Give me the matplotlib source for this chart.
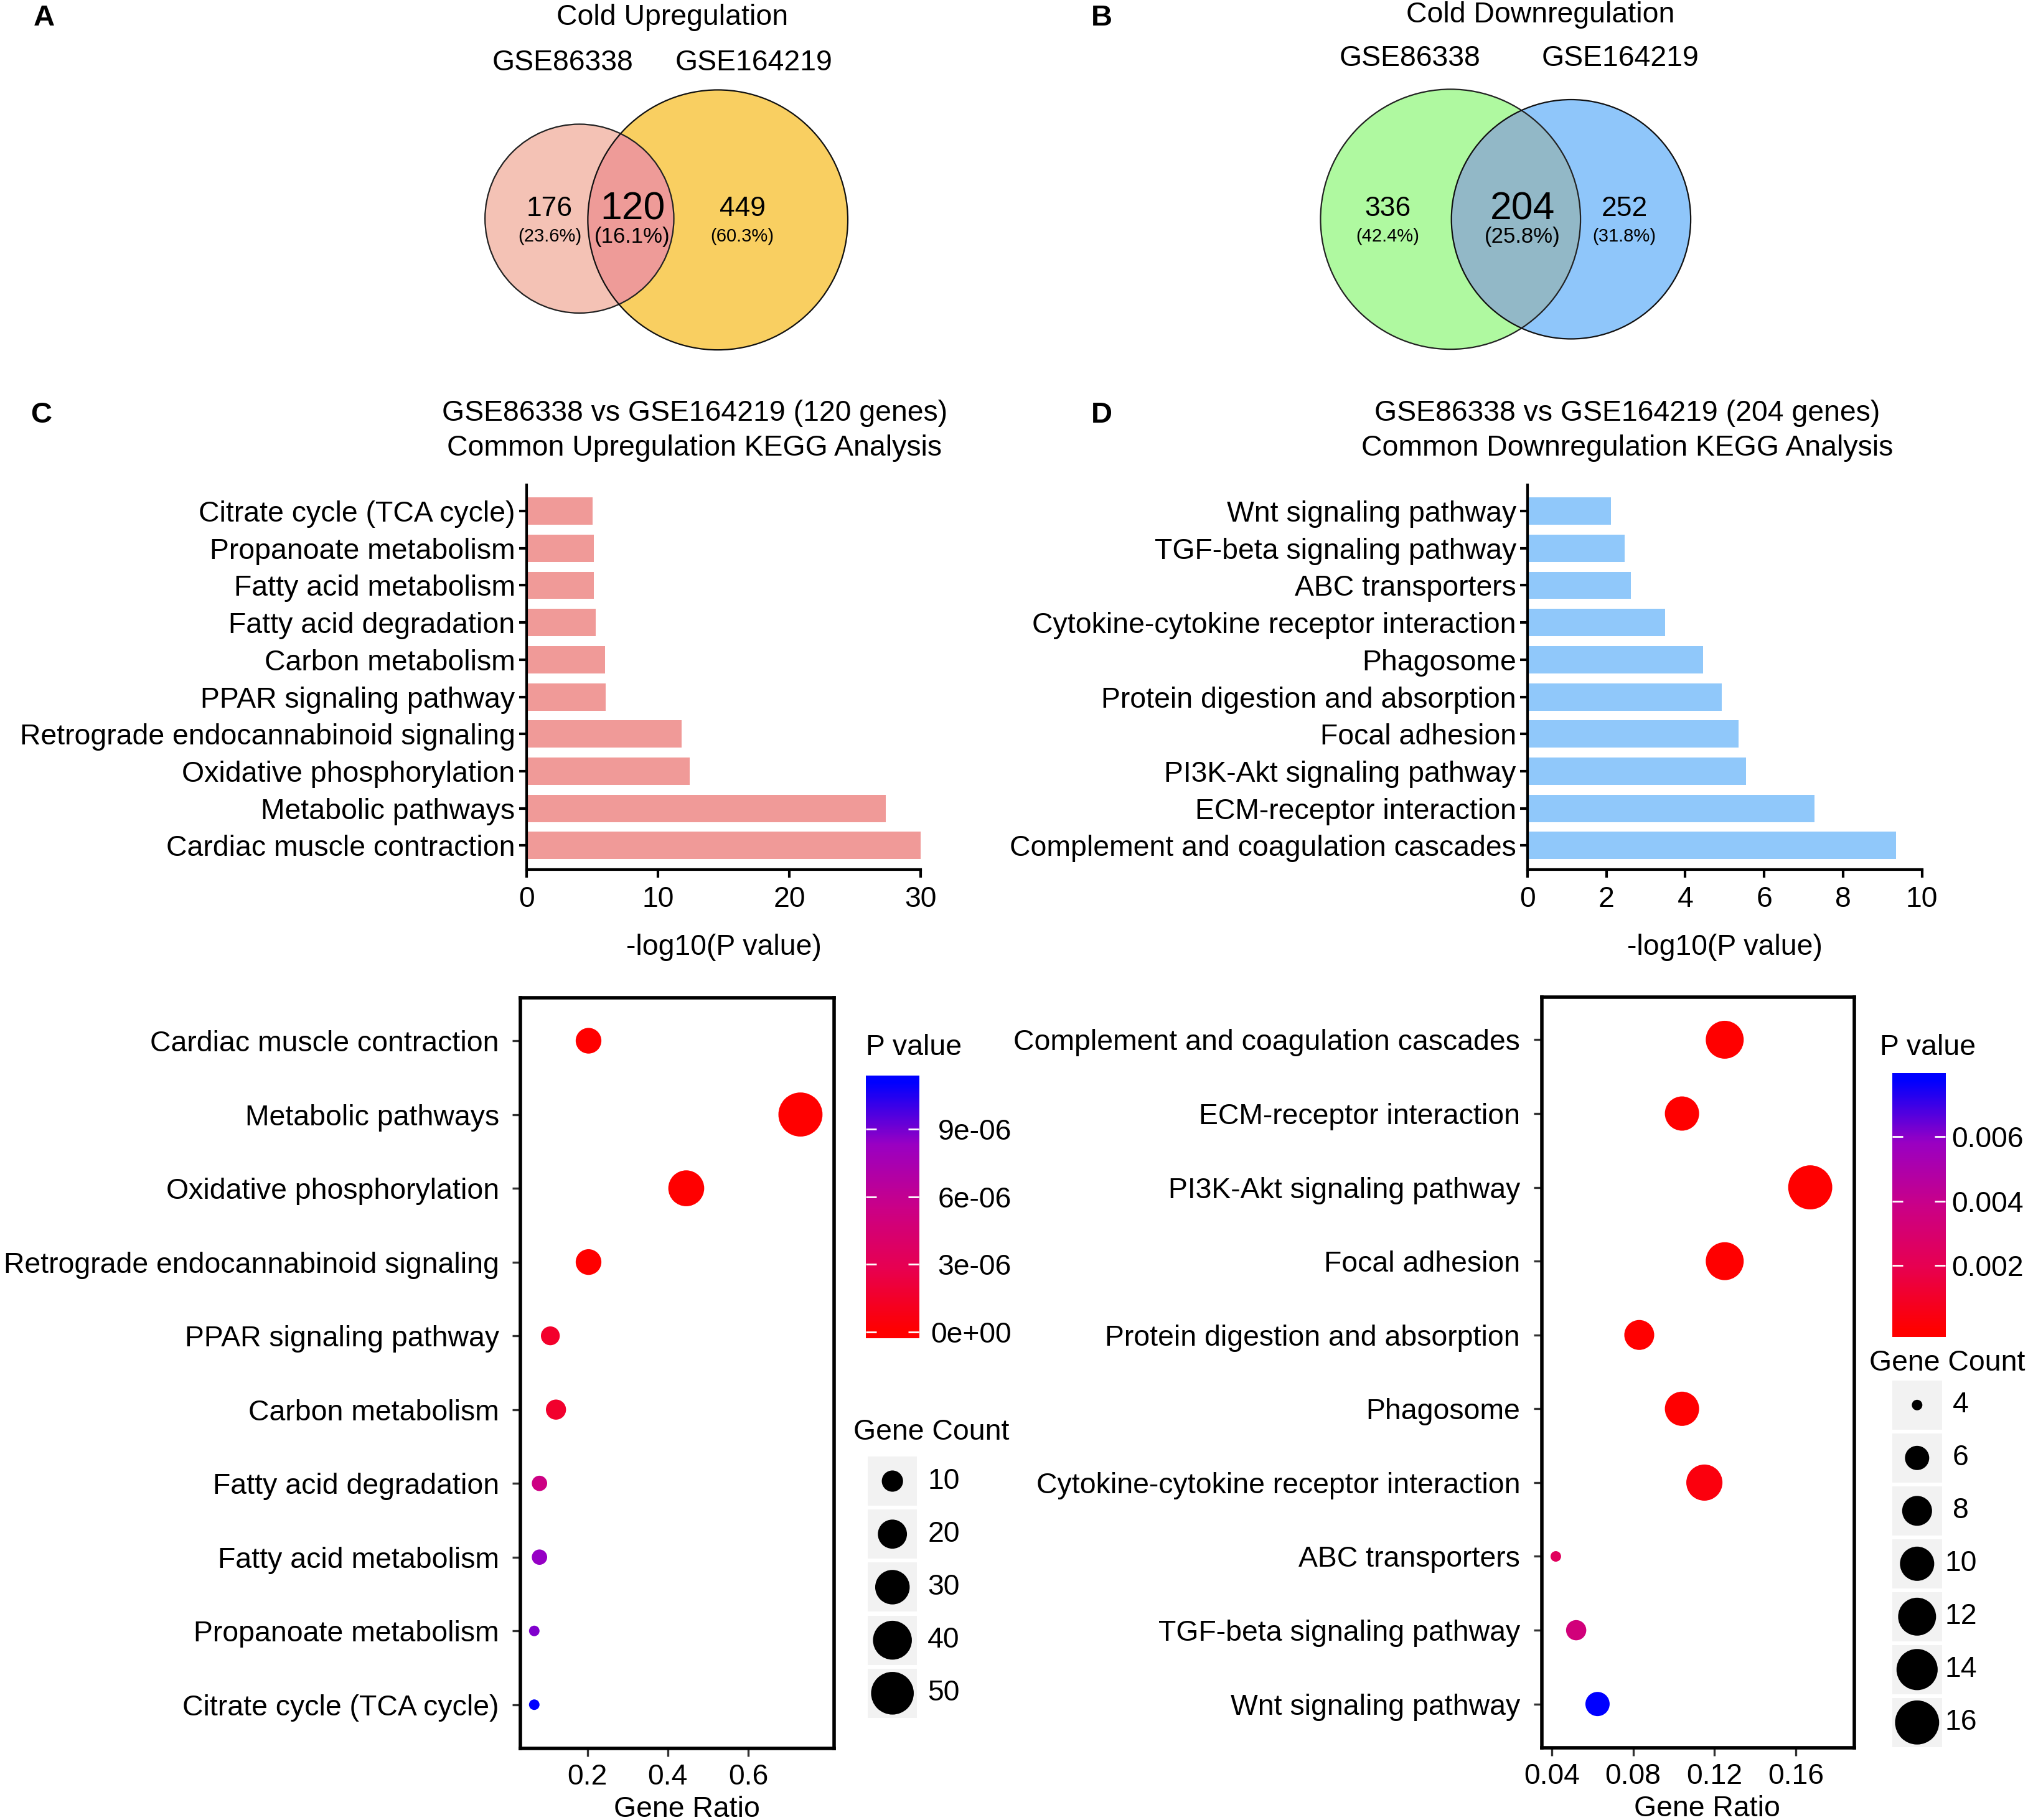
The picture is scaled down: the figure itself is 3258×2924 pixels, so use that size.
import numpy as np
import matplotlib
matplotlib.use("Agg")
import matplotlib.pyplot as plt
from matplotlib.colors import LinearSegmentedColormap, Normalize
from matplotlib.patches import Circle, Rectangle

plt.rcParams['font.family'] = ['Liberation Sans', 'DejaVu Sans']

# ---------------- data ----------------
set_names = ["GSE86338", "GSE164219"]
venn_up_counts = [176, 120, 449]      # only left, shared, only right
venn_down_counts = [336, 204, 252]

up_pathways = ["Cardiac muscle contraction", "Metabolic pathways", "Oxidative phosphorylation",
               "Retrograde endocannabinoid signaling", "PPAR signaling pathway", "Carbon metabolism",
               "Fatty acid degradation", "Fatty acid metabolism", "Propanoate metabolism",
               "Citrate cycle (TCA cycle)"]
up_log10p = [30.0, 27.35, 12.41, 11.81, 6.04, 5.96, 5.28, 5.15, 5.11, 5.05]
up_ratio = [0.203, 0.730, 0.446, 0.203, 0.108, 0.122, 0.081, 0.081, 0.068, 0.068]
up_count = [15, 54, 33, 15, 8, 9, 6, 6, 5, 5]
up_pvalue = [1.0e-30, 4.5e-28, 3.9e-13, 1.5e-12, 1.5e-06, 1.6e-06, 5.3e-06, 8.4e-06, 8.8e-06, 1.11e-05]

down_pathways = ["Complement and coagulation cascades", "ECM-receptor interaction",
                 "PI3K-Akt signaling pathway", "Focal adhesion", "Protein digestion and absorption",
                 "Phagosome", "Cytokine-cytokine receptor interaction", "ABC transporters",
                 "TGF-beta signaling pathway", "Wnt signaling pathway"]
down_log10p = [9.34, 7.27, 5.54, 5.35, 4.92, 4.45, 3.49, 2.62, 2.46, 2.12]
down_ratio = [0.125, 0.104, 0.167, 0.125, 0.083, 0.104, 0.115, 0.042, 0.052, 0.0625]
down_count = [12, 10, 16, 12, 8, 10, 11, 4, 5, 6]
down_pvalue = [4.6e-10, 5.4e-08, 2.9e-06, 4.5e-06, 1.2e-05, 3.5e-05, 3.2e-04, 2.4e-03, 3.4e-03, 7.76e-03]

up_size_breaks = [10, 20, 30, 40, 50]
down_size_breaks = [4, 6, 8, 10, 12, 14, 16]
up_cbar_ticks = [0, 3e-06, 6e-06, 9e-06]
up_cbar_labels = ["0e+00", "3e-06", "6e-06", "9e-06"]
down_cbar_ticks = [0.002, 0.004, 0.006]
down_cbar_labels = ["0.002", "0.004", "0.006"]

# ---------------- layout helpers ----------------
W, H = 1568.0, 1407.0
FS = 16.7

def box(x0, y0, x1, y1):
    return [x0 / W, 1 - y1 / H, (x1 - x0) / W, (y1 - y0) / H]

cmap = LinearSegmentedColormap.from_list(
    "pval", [(0, "#FF0000"), (0.25, "#E80050"), (0.5, "#CA0088"), (0.75, "#9A00C3"), (1, "#0000FF")])

def dot_size(counts, cmin, cmax):
    t = (np.asarray(counts, float) - cmin) / (cmax - cmin)
    return (6.1 + 19.4 * np.sqrt(np.clip(t, 0, 1))) ** 2

fig = plt.figure(figsize=(16.29, 14.62), dpi=200)

ov = fig.add_axes([0, 0, 1, 1])
ov.set_xlim(0, W)
ov.set_ylim(H, 0)
ov.axis('off')

# ---------------- venn diagrams ----------------
def venn(cl, rl, cr, rr, col_l, col_r, col_mid, counts, xs, title, tx, ty, lab_xy):
    left = Circle(cl, rl, fc=col_l, ec='none')
    right = Circle(cr, rr, fc=col_r, ec='none')
    ov.add_patch(left)
    ov.add_patch(right)
    mid = Circle(cl, rl, fc=col_mid, ec='none')
    ov.add_patch(mid)
    mid.set_clip_path(right)
    ov.add_patch(Circle(cl, rl, fill=False, ec='#222222', lw=0.8))
    ov.add_patch(Circle(cr, rr, fill=False, ec='#111111', lw=0.8))
    total = sum(counts)
    for i, (c, x) in enumerate(zip(counts, xs)):
        big = (i == 1)
        ov.text(x, 161.5, str(c), ha='center', va='center', fontsize=22.5 if big else 16)
        ov.text(x, 183, "(%.1f%%)" % (c / total * 100), ha='center', va='center',
                fontsize=12.5 if big else 10.5)
    ov.text(tx, ty, title, ha='center', va='center', fontsize=FS)
    for name, (lx, ly) in zip(set_names, lab_xy):
        ov.text(lx, ly, name, ha='center', va='center', fontsize=FS)

venn((448, 169), 73, (555, 170), 100.5, "#F4C2B5", "#F9CF61", "#EE9B98",
     venn_up_counts, [425, 489, 574], "Cold Upregulation", 520, 13.5, [(435, 48.5), (583, 48.5)])
venn((1121.5, 169.5), 100.5, (1214.7, 169.5), 92.5, "#AFF9A0", "#8FC6FA", "#92B8C7",
     venn_down_counts, [1073, 1177, 1256], "Cold Downregulation", 1191, 11.5, [(1090, 45), (1253, 45)])

for lab, x, y in [("A", 34, 14), ("B", 852, 14), ("C", 32, 321), ("D", 852, 321)]:
    ov.text(x, y, lab, ha='center', va='center', fontsize=17, fontweight='bold')

# ---------------- bar charts ----------------
def bar_panel(rect, names, vals, color, xmax, xticks, title, title_x):
    ax = fig.add_axes(rect)
    y = np.arange(len(names))
    ax.barh(y, vals, height=0.735, color=color, zorder=2)
    ax.set_yticks(y)
    ax.set_yticklabels(names, fontsize=FS)
    ax.set_ylim(-0.64, 9.70)
    ax.set_xlim(0, xmax)
    ax.set_xticks(xticks)
    ax.set_xticklabels([str(t) for t in xticks], fontsize=FS)
    for s in ['top', 'right']:
        ax.spines[s].set_visible(False)
    for s in ['left', 'bottom']:
        ax.spines[s].set_linewidth(1.5)
    ax.tick_params(axis='y', length=4.5, width=1.5, pad=2)
    ax.tick_params(axis='x', length=4.5, width=1.5, pad=5)
    ax.set_xlabel("-log10(P value)", fontsize=FS, labelpad=12)
    lines = title.split("\n")
    ov.text(title_x, 319.5, lines[0], ha='center', va='center', fontsize=FS)
    ov.text(title_x, 346.5, lines[1], ha='center', va='center', fontsize=FS)

bar_panel(box(407, 375, 712, 672), up_pathways, up_log10p, "#F09A98", 30, [0, 10, 20, 30],
          "GSE86338 vs GSE164219 (120 genes)\nCommon Upregulation KEGG Analysis", 537)
bar_panel(box(1181, 375, 1486, 672), down_pathways, down_log10p, "#90C8FA", 10, [0, 2, 4, 6, 8, 10],
          "GSE86338 vs GSE164219 (204 genes)\nCommon Downregulation KEGG Analysis", 1258)

# ---------------- dot plots ----------------
def dot_panel(rect, names, ratio, count, pval, xlim, xticks, xticklabels):
    ax = fig.add_axes(rect)
    n = len(names)
    y = np.arange(n)[::-1]
    norm = Normalize(min(pval), max(pval))
    ax.scatter(ratio, y, s=dot_size(count, min(count), max(count)), c=pval, cmap=cmap, norm=norm,
               edgecolors='none', zorder=3)
    ax.set_yticks(y)
    ax.set_yticklabels(names, fontsize=FS)
    ax.set_ylim(-0.59, 9.58)
    ax.set_xlim(*xlim)
    ax.set_xticks(xticks)
    ax.set_xticklabels(xticklabels, fontsize=FS)
    for s in ax.spines.values():
        s.set_linewidth(2.0)
    ax.tick_params(axis='both', length=4.7, width=1.2, color='#333333')
    ax.tick_params(axis='y', pad=7.7)
    ax.tick_params(axis='x', pad=4)
    ax.set_xlabel("Gene Ratio", fontsize=FS, labelpad=3)
    ax.xaxis.label.set_x(0.53)
    return ax

dot_panel(box(402.5, 771.5, 644.7, 1351.5), up_pathways, up_ratio, up_count, up_pvalue,
          (0.034, 0.813), [0.2, 0.4, 0.6], ["0.2", "0.4", "0.6"])
dot_panel(box(1191.9, 770.7, 1433.6, 1351), down_pathways, down_ratio, down_count, down_pvalue,
          (0.035, 0.1886), [0.04, 0.08, 0.12, 0.16], ["0.04", "0.08", "0.12", "0.16"])

# ---------------- p value colour bars ----------------
def pbar(rect, vmin, vmax, ticks, labels, label_pad):
    cax = fig.add_axes(rect)
    pad = 0.025 / 0.95 * (vmax - vmin)
    grad = np.linspace(vmin - pad, vmax + pad, 300)[:, None]
    cax.imshow(grad, extent=[0, 1, vmin - pad, vmax + pad], origin='lower', aspect='auto',
               cmap=cmap, norm=Normalize(vmin, vmax))
    cax.set_xlim(0, 1)
    cax.set_ylim(vmin - pad, vmax + pad)
    cax.set_xticks([])
    cax.set_yticks(ticks)
    cax.set_yticklabels(labels)
    cax.tick_params(axis='y', direction='in', length=6, width=1.0, color='white',
                    left=True, right=True, labelleft=False, labelright=True,
                    pad=label_pad, labelsize=FS, labelcolor='black')
    for t in cax.get_yticklabels():
        t.set_ha('right')
    for s in cax.spines.values():
        s.set_visible(False)

pbar(box(669.5, 831.3, 710.5, 1034.7), min(up_pvalue), max(up_pvalue), up_cbar_ticks, up_cbar_labels, 53.5)
pbar(box(1463, 829.7, 1504, 1033.4), min(down_pvalue), max(down_pvalue), down_cbar_ticks, down_cbar_labels, 45.3)
ov.text(669.5, 810, "P value", ha='left', va='center', fontsize=FS)
ov.text(1453.3, 810, "P value", ha='left', va='center', fontsize=FS)

# ---------------- gene count legends ----------------
def size_legend(x0, x1, y_first, step, breaks, cmin, cmax, label_x):
    ys = [y_first + i * step for i in range(len(breaks))]
    for cy in ys:
        ov.add_patch(Rectangle((x0, cy - 19), x1 - x0, 38, fc='#F2F2F2', ec='none'))
    ov.scatter([(x0 + x1) / 2] * len(breaks), ys, s=dot_size(breaks, cmin, cmax), c='black',
               edgecolors='none', zorder=3)
    for b, cy in zip(breaks, ys):
        ov.text(label_x, cy, str(b), ha='center', va='center', fontsize=FS)

ov.text(660, 1107, "Gene Count", ha='left', va='center', fontsize=FS)
size_legend(671, 709, 1145, 41, up_size_breaks, min(up_count), max(up_count), 729.6)
ov.text(1445.5, 1054, "Gene Count", ha='left', va='center', fontsize=FS)
size_legend(1463, 1501.5, 1086.2, 40.9, down_size_breaks, min(down_count), max(down_count), 1516)

fig.savefig("out.png", dpi=200)
plt.close(fig)
